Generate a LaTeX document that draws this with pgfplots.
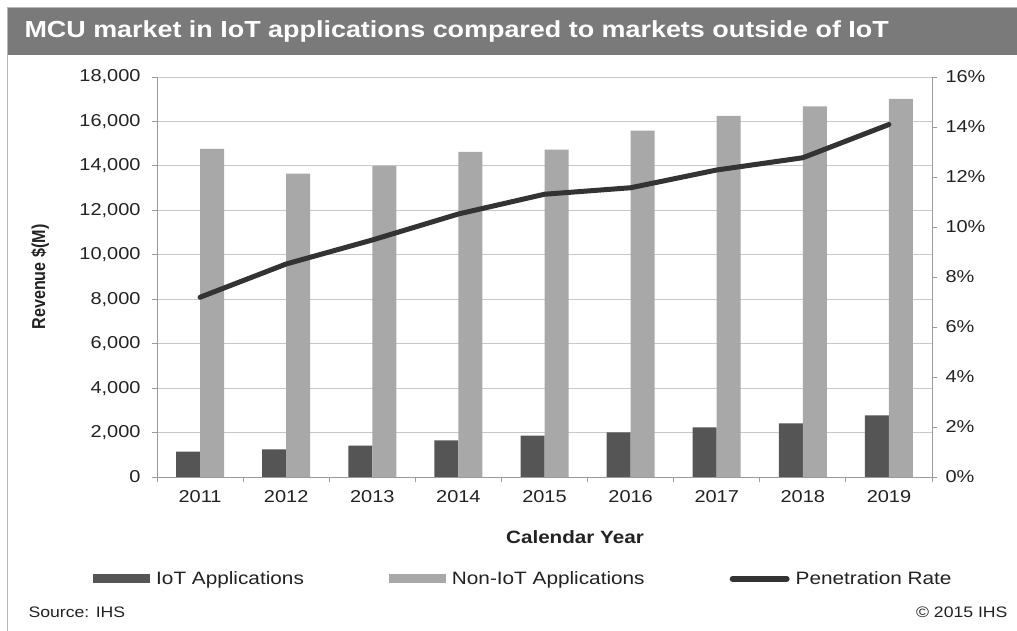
\documentclass[border=0pt]{standalone}
\usepackage{fontspec}
\setmainfont[FakeStretch=1.16]{Liberation Sans}
\newfontfamily\rotfont[FakeStretch=0.862]{Liberation Sans}
\usepackage{pgfplots}
\pgfplotsset{compat=1.18}

\definecolor{titlegray}{HTML}{7A7A7A}
\definecolor{iotgray}{HTML}{555555}
\definecolor{noniotgray}{HTML}{A8A8A8}
\definecolor{linegray}{HTML}{333333}
\definecolor{gridgray}{HTML}{C8C8C8}
\definecolor{axisgray}{HTML}{9A9A9A}
\definecolor{framegray}{HTML}{B8B8B8}
\definecolor{txt}{HTML}{222222}

% values
\pgfplotstableread{
x iot   noniot rate
0 1140  14760  7.19
1 1245  13650  8.52
2 1410  14000  9.48
3 1650  14625  10.52
4 1860  14730  11.31
5 2010  15585  11.57
6 2235  16245  12.28
7 2415  16680  12.77
8 2775  17010  14.10
}\mcudata

\pgfplotsset{
  common/.style={
    at={(157pt,154pt)}, anchor=south west,
    scale only axis, width=775pt, height=400pt,
    xmin=-0.5, xmax=8.5,
    axis line style={axisgray, line width=0.8pt},
    tick style={axisgray, line width=0.8pt},
    tick align=outside, major tick length=5pt, minor tick length=5pt,
    tick label style={font=\fontsize{17.2}{20}\selectfont, text=txt},
    scaled y ticks=false,
    /pgf/number format/1000 sep={,},
    /pgf/number format/assume math mode=true,
  },
}

\begin{document}
\begin{tikzpicture}
\useasboundingbox (0pt,0pt) rectangle (1017pt,631pt);
\fill[white] (0pt,0pt) rectangle (1017pt,631pt);
\draw[framegray, line width=1pt] (7.5pt,-2pt) -- (7.5pt,623pt) -- (1020pt,623pt);
\fill[titlegray] (7.5pt,576pt) rectangle (1017pt,622.5pt);
\node[anchor=west, text=white, font=\fontsize{23.2}{26}\selectfont\bfseries]
  at (21pt,599.5pt) {MCU market in IoT applications compared to markets outside of IoT};

\begin{axis}[common,
  ymin=0, ymax=18000,
  axis y line*=left, axis x line*=bottom,
  ybar=0pt, bar width=24pt,
  xtick={0,...,8},
  xticklabels={2011,2012,2013,2014,2015,2016,2017,2018,2019},
  major x tick style={draw=none},
  minor xtick={-0.5,0.5,...,8.5},
  xticklabel style={yshift=-5pt},
  ytick={0,2000,...,18000},
  yticklabel style={xshift=-8pt},
  ymajorgrids, grid style={gridgray, line width=0.8pt},
  legend style={at={(-0.0826,-0.255)}, anchor=west, draw=none, fill=none,
    inner sep=0pt, legend columns=3,
    font=\fontsize{17.9}{20}\selectfont, text=txt,
    /tikz/every odd column/.append style={column sep=4pt},
    /tikz/every even column/.append style={column sep=83pt}},
]
\addplot[fill=iotgray, draw=none,
  legend image code/.code={\fill[iotgray] (0pt,-4.5pt) rectangle (57pt,4.5pt);}]
  table[x=x, y=iot] {\mcudata};
\addlegendentry{IoT Applications}
\addplot[fill=noniotgray, draw=none,
  legend image code/.code={\fill[noniotgray] (0pt,-4.5pt) rectangle (57pt,4.5pt);}]
  table[x=x, y=noniot] {\mcudata};
\addlegendentry{Non-IoT Applications}
\addlegendimage{legend image code/.code={\draw[linegray, line width=6pt, line cap=round] (3pt,0pt) -- (57pt,0pt);}}
\addlegendentry{Penetration Rate}
\end{axis}

\begin{axis}[common,
  ymin=0, ymax=16,
  axis y line*=right, axis x line=none,
  ytick={0,2,...,16},
  yticklabel={\pgfmathprintnumber{\tick}\%},
  yticklabel style={xshift=5pt},
]
\addplot[linegray, line width=5pt, line join=round, line cap=round, mark=none]
  table[x=x, y=rate] {\mcudata};
\end{axis}

\node[rotate=90, font=\rotfont\fontsize{18.7}{22}\selectfont\bfseries, text=txt]
  at (40pt,354pt) {Revenue \$(M)};
\node[font=\fontsize{17.8}{20}\selectfont\bfseries, text=txt]
  at (575pt,94pt) {Calendar Year};
\node[anchor=west, font=\fontsize{15.2}{18}\selectfont, text=txt]
  at (25pt,19pt) {Source: IHS};
\node[anchor=east, font=\fontsize{15.2}{18}\selectfont, text=txt]
  at (1011pt,19pt) {© 2015 IHS};
\end{tikzpicture}
\end{document}
